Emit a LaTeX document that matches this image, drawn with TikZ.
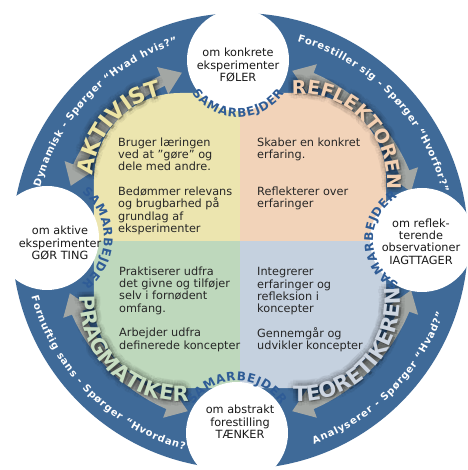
\documentclass[tikz,border=0pt]{standalone}
\usepackage{fontspec}
\setmainfont{DejaVu Sans}
\usetikzlibrary{decorations.text,arrows.meta,bending}
\definecolor{ringblue}{HTML}{3F6A98}
\definecolor{qyel}{HTML}{ECE5AF}
\definecolor{qpeach}{HTML}{F2D3B9}
\definecolor{qgreen}{HTML}{BED8BC}
\definecolor{qblue}{HTML}{C5D1DF}
\definecolor{arrgray}{HTML}{A3A7A4}
\definecolor{samblue}{HTML}{2F5C96}
\definecolor{wakt}{HTML}{EDE4A4}
\definecolor{wref}{HTML}{F3D0B2}
\definecolor{wteo}{HTML}{CDD5E0}
\definecolor{wpra}{HTML}{C8DEC2}
\newcommand\qfont{\fontsize{11.3}{12.3}\selectfont}
\newcommand\ringfont{\fontsize{10}{10}\selectfont\bfseries}
\newcommand\samfont{\fontsize{12}{12}\selectfont\bfseries}
\tikzset{
  qtext/.style={anchor=north west, inner sep=0pt, align=left, font=\qfont, text=black!85},
  ctext/.style={inner sep=0pt, align=center, font=\qfont, text=black!90},
  wcircle/.style={circle, fill=white, minimum size=#1, inner sep=0pt},
  grayarrow/.style={line width=11pt, draw=arrgray, arrows={Triangle[width=28pt,length=21pt]-Triangle[width=28pt,length=21pt]}},
  ringlabel/.style={decorate, decoration={text along path, text align=fit to path, text color=white, text={|\ringfont|#1}}},
  samlabel/.style={decorate, decoration={text along path, text align=fit to path, text color=samblue, text={|\samfont|SAMARBEJDER}}},
}
% #1 shift, #2 radius, #3 start, #4 end, #5 size, #6 colour, #7 word
\newcommand\drawword[7]{%
  \foreach \a in {0,30,...,330}{%
    \begin{scope}[opacity=0.045]
    \path[shift={#1}, shift={(\a:5.5)}, decorate, decoration={text along path, text align=center, text color=black, text={|\fontsize{#5}{#5}\selectfont\bfseries|#7}}] (#3:#2) arc[start angle=#3, end angle=#4, radius=#2];
    \end{scope}
  }%
  \foreach \a in {0,45,...,315}{%
    \begin{scope}[opacity=0.055]
    \path[shift={#1}, shift={(\a:2.5)}, decorate, decoration={text along path, text align=center, text color=black, text={|\fontsize{#5}{#5}\selectfont\bfseries|#7}}] (#3:#2) arc[start angle=#3, end angle=#4, radius=#2];
    \end{scope}
  }%
  \begin{scope}[opacity=0.2]
  \path[shift={#1}, shift={(1.5,-1.5)}, decorate, decoration={text along path, text align=center, text color=black, text={|\fontsize{#5}{#5}\selectfont\bfseries|#7}}] (#3:#2) arc[start angle=#3, end angle=#4, radius=#2];
  \end{scope}
  \path[shift={#1}, decorate, decoration={text along path, text align=center, text color=#6, text={|\fontsize{#5}{#5}\selectfont\bfseries|#7}}] (#3:#2) arc[start angle=#3, end angle=#4, radius=#2];
}
\begin{document}
\begin{tikzpicture}[x=1pt,y=1pt]
\useasboundingbox (-240,-229) rectangle (227,241);
\fill[white] (-240,-229) rectangle (227,241);
% blue ring
\fill[ringblue] (0,0) circle[radius=228];
% gray arrows
\draw[grayarrow] (162:178) arc[start angle=162, end angle=109, radius=178];
\draw[grayarrow] (73:178) arc[start angle=73, end angle=16, radius=178];
\draw[grayarrow] (-16:178) arc[start angle=-16, end angle=-73, radius=178];
\draw[grayarrow] (197:178) arc[start angle=197, end angle=253, radius=178];
% quadrants
\begin{scope}
  \clip[rounded corners=86pt] (-146,-147) rectangle (146,148);
  \fill[qyel] (-150,0) rectangle (0,150);
  \fill[qpeach] (0,0) rectangle (150,150);
  \fill[qgreen] (-150,-150) rectangle (0,0);
  \fill[qblue] (0,-150) rectangle (150,0);
\end{scope}
% big words
\drawword{(-60,60)}{87}{209}{69}{22}{wakt}{AKTIVIST}
\drawword{(60,60)}{87}{115}{-25}{19}{wref}{REFLEKTOREN}
\drawword{(60,-60)}{100}{-113}{27}{21}{wteo}{TEORETIKEREN}
\drawword{(-60,-60)}{100}{156}{296}{21}{wpra}{PRAGMATIKER}
% white circles
\node[wcircle=102pt] (ctop) at (-2,181) {};
\node[wcircle=102pt] (cbot) at (-3,-192) {};
\node[wcircle=104pt] (cleft) at (-193,3) {};
\node[wcircle=104pt] (cright) at (182,1) {};
% SAMARBEJDER
\path[samlabel, shift={(ctop.center)}] (216:57) arc[start angle=216, end angle=324, radius=57];
\path[samlabel, shift={(cright.center)}] (242:49) arc[start angle=242, end angle=120, radius=49];
\path[samlabel, shift={(cleft.center)}] (52.5:57) arc[start angle=52.5, end angle=-52.5, radius=57];
\path[samlabel, shift={(cbot.center)}] (147.5:52) arc[start angle=147.5, end angle=32.5, radius=52];
% ring labels
\path[ringlabel={Dynamisk - Spørger “Hvad hvis?”}] (165:207) arc[start angle=165, end angle=107.5, radius=207];
\path[ringlabel={Forestiller sig - Spørger “Hvorfor?”}] (74:208) arc[start angle=74, end angle=13.5, radius=208];
\path[ringlabel={Analyserer - Spørger “Hvad?”}] (-70:216) arc[start angle=-70, end angle=-19.5, radius=216];
\path[ringlabel={Fornuftig sans - Spørger “Hvordan?”}] (195:216) arc[start angle=195, end angle=257, radius=216];
% circle texts
\node[ctext] (ttop) at (-2,176) {om konkrete\\eksperimenter\\FØLER};
\node[ctext] (tleft) at (-180,-2) {om aktive\\eksperimenter\\GØR TING};
\node[ctext] (tright) at (181,-0.5) {om reflek-\\terende\\observationer\\IAGTTAGER};
\node[ctext] (tbot) at (0,-181) {om abstrakt\\forestilling\\TÆNKER};
% quadrant texts
\node[qtext] (q1) at (-122,103.5) {Bruger læringen\\ved at ”gøre” og\\dele med andre.\\[12.3pt]Bedømmer relevans\\og brugbarhed på\\grundlag af\\eksperimenter};
\node[qtext] (q2) at (17,103.5) {Skaber en konkret\\erfaring.\\[24.6pt]Reflekterer over\\erfaringer};
\node[qtext] (q3) at (-121,-25.5) {Praktiserer udfra\\det givne og tilføjer\\selv i fornødent\\omfang.\\[12.3pt]Arbejder udfra\\definerede koncepter};
\node[qtext] (q4) at (17,-26.5) {Integrerer\\erfaringer og\\refleksion i\\koncepter\\[12.3pt]Gennemgår og\\udvikler koncepter};
\end{tikzpicture}
\end{document}
